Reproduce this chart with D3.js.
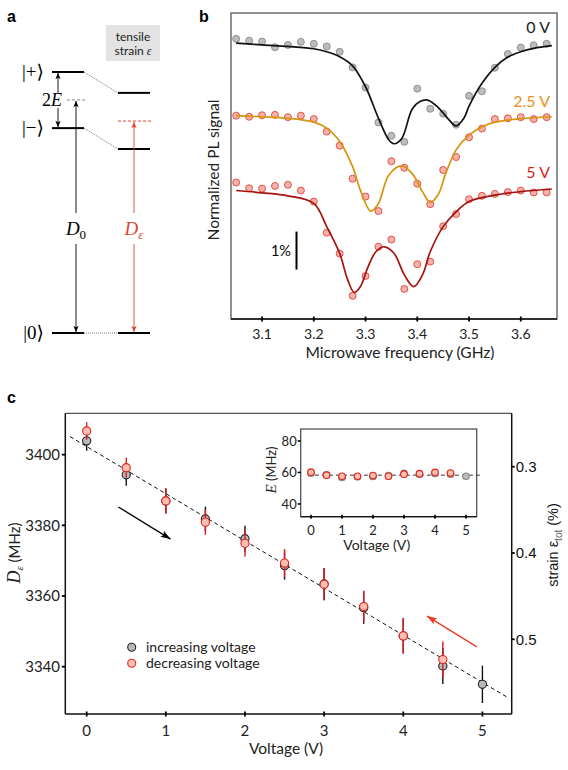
<!DOCTYPE html>
<html lang="en">
<head>
<meta charset="UTF-8">
<title>Strain tuning of the NV spin levels</title>
<script src="https://d3js.org/d3.v7.min.js"></script>
<style>
  body { margin: 0; background: #fff; }
  svg { display: block; }
</style>
</head>
<body>
<svg width="568" height="770"></svg>
<script>
// ---------- panel a: level scheme (schematic energies, arbitrary units) ----------
const levelLabels = ['|0\u27E9', '|\u2212\u27E9', '|+\u27E9'];
const levelsRelaxed = [0, 78.5, 100];
const levelsStrained = [0, 70.5, 92];
const midRelaxed = 89.3;
const midStrained = 81.2;

// ---------- panel b: ODMR spectra ----------
const freqs = [3.05, 3.075, 3.1, 3.125, 3.15, 3.175, 3.2, 3.225, 3.25, 3.275, 3.3, 3.325, 3.35,
               3.375, 3.4, 3.425, 3.45, 3.475, 3.5, 3.525, 3.55, 3.575, 3.6, 3.625, 3.65];
const pl0V  = [7.37, 7.32, 7.30, 7.15, 7.21, 7.29, 7.24, 7.17, 7.03, 6.62, 6.09, 5.17, 4.82,
               4.66, 6.06, 5.53, 5.40, 5.11, 5.87, 5.99, 6.61, 6.97, 7.14, 7.20, 7.24];
const pl25V = [5.35, 5.32, 5.36, 5.37, 5.31, 5.35, 5.26, 4.93, 4.56, 3.69, 3.22, 2.84, 4.15,
               3.98, 3.56, 3.02, 3.92, 4.26, 4.78, 5.01, 5.26, 5.28, 5.31, 5.26, 5.31];
const pl5V  = [3.59, 3.44, 3.43, 3.50, 3.53, 3.38, 3.09, 2.27, 1.72, 0.61, 1.13, 1.90, 2.09,
               0.79, 1.44, 1.51, 2.44, 2.76, 3.15, 3.24, 3.29, 3.34, 3.38, 3.33, 3.33];

const fitFreq0V = [3.05, 3.1, 3.15, 3.2, 3.225, 3.25, 3.275, 3.3, 3.325, 3.345, 3.355, 3.37, 3.39,
                   3.405, 3.42, 3.44, 3.46, 3.475, 3.49, 3.5, 3.525, 3.55, 3.575, 3.6, 3.625, 3.66];
const fit0V = [7.26, 7.21, 7.17, 7.11, 7.03, 6.90, 6.66, 6.11, 5.28, 4.71, 4.61, 4.75, 5.52,
               5.72, 5.76, 5.57, 5.26, 5.08, 5.28, 5.60, 6.20, 6.62, 6.89, 7.03, 7.12, 7.19];
const fitFreq25V = [3.05, 3.1, 3.15, 3.2, 3.225, 3.25, 3.275, 3.29, 3.31, 3.325, 3.345, 3.37,
                    3.39, 3.41, 3.425, 3.44, 3.455, 3.475, 3.5, 3.525, 3.55, 3.6, 3.66];
const fit25V = [5.35, 5.32, 5.28, 5.18, 5.02, 4.67, 4.01, 3.39, 2.84, 3.04, 3.79, 4.03,
                3.83, 3.35, 3.07, 3.26, 3.83, 4.45, 4.84, 5.06, 5.18, 5.27, 5.32];
const fitFreq5V = [3.05, 3.1, 3.15, 3.2, 3.225, 3.25, 3.265, 3.278, 3.29, 3.305, 3.32, 3.336,
                   3.355, 3.375, 3.393, 3.41, 3.425, 3.45, 3.475, 3.5, 3.55, 3.6, 3.66];
const fit5V = [3.38, 3.32, 3.24, 3.04, 2.43, 1.73, 1.05, 0.70, 0.85, 1.38, 1.77, 1.90,
               1.73, 1.16, 0.85, 1.16, 1.77, 2.43, 2.82, 3.09, 3.26, 3.35, 3.42];
const freqTicks = [3.1, 3.2, 3.3, 3.4, 3.5, 3.6];

// ---------- panel c: D_eps and E versus voltage ----------
const voltsUp = [0, 0.5, 1, 1.5, 2, 2.5, 3, 3.5, 4, 4.5, 5];
const dUp = [3403.9, 3394.3, 3386.9, 3381.8, 3376.2, 3368.6, 3363.4, 3356.7, 3348.7, 3340.2, 3335.0];
const dUpErr = [2.8, 3.1, 3.5, 3.5, 3.7, 4.0, 4.5, 4.6, 5.0, 5.1, 5.3];
const voltsDown = [0, 0.5, 1, 1.5, 2, 2.5, 3, 3.5, 4, 4.5];
const dDown = [3406.7, 3396.3, 3386.9, 3380.9, 3374.9, 3369.3, 3363.3, 3357.0, 3348.7, 3342.0];
const dDownErr = [2.5, 2.8, 3.6, 3.6, 3.8, 4.0, 4.6, 4.5, 5.0, 5.1];
const fitLineV = [-0.21, 5.31];
const fitLineD = [3405.1, 3331.4];
const eUp = [59.5, 58.5, 56.8, 57.2, 57.5, 58.0, 59.4, 58.8, 59.4, 58.9, 57.6];
const eUpErr = [1.8, 1.8, 1.8, 1.8, 1.8, 1.8, 1.8, 1.8, 1.8, 1.8, 1.8];
const eDown = [60.2, 58.3, 57.6, 57.6, 58.0, 57.6, 58.9, 59.2, 60.0, 59.6];
const eFitV = [-0.1, 5.5];
const eFit = [58.3, 58.3];
const voltTicks = [0, 1, 2, 3, 4, 5];
const dTicks = [3340, 3360, 3380, 3400];
const strainTicks = [0.3, 0.4, 0.5];
const eTicks = [40, 60, 80];

// ---------------------------------------------------------------
const svg = d3.select('svg');
const sans = 'Lato, "Open Sans", sans-serif';
const arial = '"Liberation Sans", Arial, sans-serif';
const serif = '"Liberation Serif", "DejaVu Serif", serif';
const redLine = '#d9472f';

const defs = svg.append('defs');
function marker(id, color, len, half) {
    defs.append('marker')
        .attr('id', id)
        .attr('viewBox', `0 ${-half} ${len} ${2 * half}`)
        .attr('refX', len).attr('refY', 0)
        .attr('markerUnits', 'userSpaceOnUse')
        .attr('markerWidth', len).attr('markerHeight', 2 * half)
        .attr('orient', 'auto')
        .append('path')
        .attr('d', `M0,${-half}L${len},0L0,${half}L${len * 0.2},0Z`)
        .attr('fill', color);
}
marker('headK', '#000', 6, 2.6);
marker('headR', redLine, 6, 2.6);
marker('bigK', '#000', 10, 3.5);
marker('bigR', '#ee3a22', 10, 3.5);

// panel letters
[['a', 7, 22], ['b', 199, 22], ['c', 7, 403]].forEach(([t, x, y]) =>
    svg.append('text').attr('x', x).attr('y', y).text(t)
        .attr('font-family', arial).attr('font-weight', 'bold').attr('font-size', 16));

// ================= panel a =================
const yA = d3.scaleLinear().domain([0, 100]).range([333, 72]);
const gA = svg.append('g');

gA.append('rect').attr('x', 106).attr('y', 25).attr('width', 54).attr('height', 36).attr('fill', '#e3e3e3');
gA.append('text').attr('x', 133).attr('y', 41).attr('text-anchor', 'middle')
    .attr('font-family', sans).attr('font-size', 12).attr('fill', '#222').text('tensile');
const st = gA.append('text').attr('x', 133).attr('y', 55).attr('text-anchor', 'middle')
    .attr('font-family', sans).attr('font-size', 12).attr('fill', '#222');
st.append('tspan').text('strain ');
st.append('tspan').attr('font-family', serif).attr('font-style', 'italic').text('\u03B5');

// levels
levelsRelaxed.forEach((e, i) => {
    gA.append('line').attr('x1', 52).attr('x2', 84).attr('y1', yA(e)).attr('y2', yA(e))
        .attr('stroke', '#000').attr('stroke-width', 2);
    gA.append('line').attr('x1', 118).attr('x2', 150)
        .attr('y1', yA(levelsStrained[i])).attr('y2', yA(levelsStrained[i]))
        .attr('stroke', '#000').attr('stroke-width', 2);
    gA.append('line').attr('x1', 84).attr('x2', 118)
        .attr('y1', yA(e)).attr('y2', yA(levelsStrained[i]))
        .attr('stroke', '#555').attr('stroke-width', 0.8).attr('stroke-dasharray', '1,1');
    gA.append('text').attr('x', 44).attr('y', yA(e)).attr('dy', '0.33em')
        .attr('text-anchor', 'end').attr('font-family', serif).attr('font-size', 19)
        .text(levelLabels[i]);
});
gA.append('line').attr('x1', 67).attr('x2', 86).attr('y1', yA(midRelaxed)).attr('y2', yA(midRelaxed))
    .attr('stroke', '#888').attr('stroke-width', 1).attr('stroke-dasharray', '3,2');
gA.append('line').attr('x1', 118).attr('x2', 151).attr('y1', yA(midStrained)).attr('y2', yA(midStrained))
    .attr('stroke', redLine).attr('stroke-width', 1).attr('stroke-dasharray', '3,2');

// 2E splitting arrows
gA.append('line').attr('x1', 58).attr('x2', 58)
    .attr('y1', yA(midRelaxed) - 7).attr('y2', yA(levelsRelaxed[2]) + 1)
    .attr('stroke', '#000').attr('stroke-width', 0.9).attr('marker-end', 'url(#headK)');
gA.append('line').attr('x1', 58).attr('x2', 58)
    .attr('y1', yA(midRelaxed) + 8).attr('y2', yA(levelsRelaxed[1]) - 1)
    .attr('stroke', '#000').attr('stroke-width', 0.9).attr('marker-end', 'url(#headK)');
const e2 = gA.append('text').attr('x', 62).attr('y', yA(midRelaxed)).attr('dy', '0.35em')
    .attr('text-anchor', 'end').attr('font-family', serif).attr('font-size', 18);
e2.append('tspan').text('2');
e2.append('tspan').attr('font-style', 'italic').text('E');

// D0 and D_eps arrows
function zfsArrow(x, top, color, head) {
    gA.append('line').attr('x1', x).attr('x2', x).attr('y1', 213).attr('y2', yA(top) + 1)
        .attr('stroke', color).attr('stroke-width', 0.9).attr('marker-end', `url(#${head})`);
    gA.append('line').attr('x1', x).attr('x2', x).attr('y1', 244).attr('y2', yA(0) - 1)
        .attr('stroke', color).attr('stroke-width', 0.9).attr('marker-end', `url(#${head})`);
}
zfsArrow(76, midRelaxed, '#000', 'headK');
zfsArrow(134, midStrained, redLine, 'headR');
function dLabel(x, sub, color) {
    const t = gA.append('text').attr('x', x).attr('y', 235).attr('text-anchor', 'middle')
        .attr('font-family', serif).attr('font-size', 19).attr('fill', color);
    t.append('tspan').attr('font-style', 'italic').text('D');
    t.append('tspan').attr('font-size', 13).attr('dy', 4)
        .attr('font-style', sub === '0' ? 'normal' : 'italic').text(sub);
}
dLabel(76, '0', '#000');
dLabel(134, '\u03B5', redLine);

// ================= panel b =================
const bL = 231, bR = 557, bT = 13, bB = 319;
const xB = d3.scaleLinear().domain([3.04, 3.67]).range([bL, bR]);
const yB = d3.scaleLinear().domain([0, 8.05]).range([bB, bT]);
const gB = svg.append('g');

gB.append('rect').attr('x', bL).attr('y', bT).attr('width', bR - bL).attr('height', bB - bT)
    .attr('fill', 'none').attr('stroke', '#555').attr('stroke-width', 1.3);
gB.append('line').attr('x1', bL).attr('x2', bR).attr('y1', bB).attr('y2', bB)
    .attr('stroke', '#111').attr('stroke-width', 1.5);
gB.selectAll('.tickB').data(freqTicks).join('line')
    .attr('x1', d => xB(d)).attr('x2', d => xB(d)).attr('y1', bB - 2.5).attr('y2', bB + 2.5)
    .attr('stroke', '#000').attr('stroke-width', 1.8);
gB.selectAll('.tlB').data(freqTicks).join('text')
    .attr('x', d => xB(d)).attr('y', bB + 19.5).attr('text-anchor', 'middle')
    .attr('font-family', sans).attr('font-size', 14).attr('fill', '#222')
    .text(d => d.toFixed(1));
gB.append('text').attr('x', 400).attr('y', 358).attr('text-anchor', 'middle')
    .attr('font-family', sans).attr('font-size', 15.5).attr('fill', '#222')
    .text('Microwave frequency (GHz)');
gB.append('text').attr('transform', `translate(219,170) rotate(-90)`)
    .attr('text-anchor', 'middle').attr('font-family', sans).attr('font-size', 15.5).attr('fill', '#222')
    .text('Normalized PL signal');

// 1% scale bar
gB.append('line').attr('x1', 296.5).attr('x2', 296.5).attr('y1', yB(1.3)).attr('y2', yB(2.3))
    .attr('stroke', '#000').attr('stroke-width', 2);
gB.append('text').attr('x', 291).attr('y', yB(1.8)).attr('dy', '0.35em').attr('text-anchor', 'end')
    .attr('font-family', sans).attr('font-size', 14.5).text('1%');

const spectra = [
    { label: '0 V', pts: pl0V, fitF: fitFreq0V, fit: fit0V, line: '#111', text: '#222', fill: '#bdbdbd', stroke: '#808080', ly: 33 },
    { label: '2.5 V', pts: pl25V, fitF: fitFreq25V, fit: fit25V, line: '#d8930f', text: '#e8921c', fill: '#f5b1aa', stroke: '#d9362c', ly: 107 },
    { label: '5 V', pts: pl5V, fitF: fitFreq5V, fit: fit5V, line: '#a5120f', text: '#d8281c', fill: '#f5b1aa', stroke: '#d9362c', ly: 178 }
];
const fitLineB = d3.line().x(d => xB(d[0])).y(d => yB(d[1])).curve(d3.curveCatmullRom.alpha(0.5));
spectra.forEach(s => {
    gB.append('g').selectAll('circle').data(freqs.map((f, i) => [f, s.pts[i]])).join('circle')
        .attr('cx', d => xB(d[0])).attr('cy', d => yB(d[1])).attr('r', 3.5)
        .attr('fill', s.fill).attr('stroke', s.stroke).attr('stroke-width', 0.8);
    gB.append('path').attr('d', fitLineB(s.fitF.map((f, i) => [f, s.fit[i]])))
        .attr('fill', 'none').attr('stroke', s.line).attr('stroke-width', 1.7);
    gB.append('text').attr('x', 550).attr('y', s.ly).attr('text-anchor', 'end')
        .attr('font-family', sans).attr('font-size', 16).attr('fill', s.text).text(s.label);
});

// ================= panel c =================
const cL = 65.3, cR = 511.7, cT = 413.3, cB = 714;
const xC = d3.scaleLinear().domain([-0.27, 5.37]).range([cL, cR]);
const yC = d3.scaleLinear().domain([3326.6, 3411.7]).range([cB, cT]);
const yS = d3.scaleLinear().domain([0.2381, 0.5866]).range([cT, cB]);
const gC = svg.append('g');

gC.append('line').attr('x1', cL).attr('x2', cR).attr('y1', cT).attr('y2', cT)
    .attr('stroke', '#555').attr('stroke-width', 1.3);
gC.append('line').attr('x1', cL).attr('x2', cL).attr('y1', cT).attr('y2', cB)
    .attr('stroke', '#111').attr('stroke-width', 1.5);
gC.append('line').attr('x1', cR).attr('x2', cR).attr('y1', cT).attr('y2', cB)
    .attr('stroke', '#111').attr('stroke-width', 1.5);
gC.append('line').attr('x1', cL).attr('x2', cR).attr('y1', cB).attr('y2', cB)
    .attr('stroke', '#111').attr('stroke-width', 1.5);

// x ticks
gC.selectAll('.vt').data(voltTicks).join('line')
    .attr('x1', d => xC(d)).attr('x2', d => xC(d)).attr('y1', cB - 2.5).attr('y2', cB + 2.5)
    .attr('stroke', '#000').attr('stroke-width', 1.8);
gC.selectAll('.vl').data(voltTicks).join('text')
    .attr('x', d => xC(d)).attr('y', 736).attr('text-anchor', 'middle')
    .attr('font-family', sans).attr('font-size', 15).attr('fill', '#222').text(d => d);
gC.append('text').attr('x', 286).attr('y', 754).attr('text-anchor', 'middle')
    .attr('font-family', sans).attr('font-size', 15.5).attr('fill', '#222').text('Voltage (V)');

// left y ticks
gC.selectAll('.dt').data(dTicks).join('line')
    .attr('x1', cL - 3.5).attr('x2', cL).attr('y1', d => yC(d)).attr('y2', d => yC(d))
    .attr('stroke', '#000').attr('stroke-width', 1.8);
gC.selectAll('.dl').data(dTicks).join('text')
    .attr('x', 60).attr('y', d => yC(d)).attr('dy', '0.36em').attr('text-anchor', 'end')
    .attr('font-family', sans).attr('font-size', 15).attr('fill', '#222').text(d => d);
const dlab = gC.append('text').attr('transform', `translate(20,553) rotate(-90)`)
    .attr('text-anchor', 'middle').attr('fill', '#222');
dlab.append('tspan').attr('font-family', serif).attr('font-style', 'italic').attr('font-size', 18).text('D');
dlab.append('tspan').attr('font-family', serif).attr('font-style', 'italic').attr('font-size', 11).attr('dy', 3).text('\u03B5');
dlab.append('tspan').attr('font-family', sans).attr('font-size', 15).attr('dy', -3).text(' (MHz)');

// right strain axis
gC.selectAll('.sk').data(strainTicks).join('line')
    .attr('x1', cR).attr('x2', cR + 3).attr('y1', d => yS(d)).attr('y2', d => yS(d))
    .attr('stroke', '#000').attr('stroke-width', 1.8);
gC.selectAll('.sl').data(strainTicks).join('text')
    .attr('x', cR + 4).attr('y', d => yS(d)).attr('dy', '0.36em')
    .attr('font-family', arial).attr('font-size', 15).attr('fill', '#111').text(d => d.toFixed(1));
const slab = gC.append('text').attr('transform', `translate(558,545) rotate(-90)`)
    .attr('text-anchor', 'middle').attr('font-family', arial).attr('font-size', 14.5).attr('fill', '#111');
slab.append('tspan').text('strain \u03B5');
slab.append('tspan').attr('font-size', 10).attr('dy', 4).attr('fill', '#666').text('tot');
slab.append('tspan').attr('dy', -4).text(' (%)');

// dashed linear fit
gC.append('line')
    .attr('x1', xC(fitLineV[0])).attr('y1', yC(fitLineD[0]))
    .attr('x2', xC(fitLineV[1])).attr('y2', yC(fitLineD[1]))
    .attr('stroke', '#111').attr('stroke-width', 1).attr('stroke-dasharray', '4,3');

function series(g, xs, ys, errs, x, y, barColor, fill, stroke, r, bw) {
    const data = xs.map((v, i) => ({ v, d: ys[i], e: errs ? errs[i] : 0 }));
    if (errs) {
        g.append('g').selectAll('line').data(data).join('line')
            .attr('x1', d => x(d.v)).attr('x2', d => x(d.v))
            .attr('y1', d => y(d.d - d.e)).attr('y2', d => y(d.d + d.e))
            .attr('stroke', barColor).attr('stroke-width', bw);
    }
    g.append('g').selectAll('circle').data(data).join('circle')
        .attr('cx', d => x(d.v)).attr('cy', d => y(d.d)).attr('r', r)
        .attr('fill', fill).attr('stroke', stroke).attr('stroke-width', 1.1);
}
series(gC, voltsUp, dUp, dUpErr, xC, yC, '#111', '#b9b9b9', '#222', 4.1, 1.4);
series(gC, voltsDown, dDown, dDownErr, xC, yC, '#d81e1e', '#fcbfb2', '#e2231c', 4.1, 1.4);

// direction arrows
gC.append('line').attr('x1', xC(0.40)).attr('y1', yC(3385.2)).attr('x2', xC(1.06)).attr('y2', yC(3376.1))
    .attr('stroke', '#000').attr('stroke-width', 1.3).attr('marker-end', 'url(#bigK)');
gC.append('line').attr('x1', xC(4.93)).attr('y1', yC(3345.6)).attr('x2', xC(4.30)).attr('y2', yC(3354.3))
    .attr('stroke', '#ee3a22').attr('stroke-width', 1.3).attr('marker-end', 'url(#bigR)');

// legend
const legend = [
    { label: 'increasing voltage', fill: '#b9b9b9', stroke: '#222' },
    { label: 'decreasing voltage', fill: '#fcbfb2', stroke: '#e2231c' }
];
legend.forEach((l, i) => {
    gC.append('circle').attr('cx', 131.7).attr('cy', 647.3 + i * 16).attr('r', 4)
        .attr('fill', l.fill).attr('stroke', l.stroke).attr('stroke-width', 1.1);
    gC.append('text').attr('x', 146).attr('y', 647.3 + i * 16).attr('dy', '0.35em')
        .attr('font-family', sans).attr('font-size', 14).attr('fill', '#222').text(l.label);
});

// ---------- inset: E versus voltage ----------
const iL = 300.7, iR = 476.7, iT = 429, iB = 516.7;
const xI = d3.scaleLinear().domain([-0.332, 5.345]).range([iL, iR]);
const yI = d3.scaleLinear().domain([31.9, 87.6]).range([iB, iT]);
const gI = svg.append('g');
gI.append('rect').attr('x', iL).attr('y', iT).attr('width', iR - iL).attr('height', iB - iT)
    .attr('fill', '#fff').attr('stroke', '#444').attr('stroke-width', 1.2);
gI.append('line').attr('x1', iL).attr('x2', iR).attr('y1', iB).attr('y2', iB)
    .attr('stroke', '#111').attr('stroke-width', 1.3);
gI.selectAll('.ix').data(voltTicks).join('line')
    .attr('x1', d => xI(d)).attr('x2', d => xI(d)).attr('y1', iB - 2).attr('y2', iB + 2)
    .attr('stroke', '#000').attr('stroke-width', 1.6);
gI.selectAll('.ixl').data(voltTicks).join('text')
    .attr('x', d => xI(d)).attr('y', 534.5).attr('text-anchor', 'middle')
    .attr('font-family', sans).attr('font-size', 13).attr('fill', '#222').text(d => d);
gI.append('text').attr('x', 376.7).attr('y', 550).attr('text-anchor', 'middle')
    .attr('font-family', sans).attr('font-size', 14).attr('fill', '#222').text('Voltage (V)');
gI.selectAll('.iy').data(eTicks).join('line')
    .attr('x1', iL - 3).attr('x2', iL).attr('y1', d => yI(d)).attr('y2', d => yI(d))
    .attr('stroke', '#000').attr('stroke-width', 1.6);
gI.selectAll('.iyl').data(eTicks).join('text')
    .attr('x', iL - 4).attr('y', d => yI(d)).attr('dy', '0.36em').attr('text-anchor', 'end')
    .attr('font-family', sans).attr('font-size', 13).attr('fill', '#222').text(d => d);
const elab = gI.append('text').attr('transform', `translate(276,470) rotate(-90)`)
    .attr('text-anchor', 'middle').attr('font-size', 13).attr('fill', '#222');
elab.append('tspan').attr('font-family', serif).attr('font-style', 'italic').attr('font-size', 15).text('E');
elab.append('tspan').attr('font-family', sans).text(' (MHz)');

gI.append('line').attr('x1', xI(eFitV[0])).attr('x2', xI(eFitV[1]))
    .attr('y1', yI(eFit[0])).attr('y2', yI(eFit[1]))
    .attr('stroke', '#333').attr('stroke-width', 1).attr('stroke-dasharray', '4,3');
series(gI, voltsUp, eUp, eUpErr, xI, yI, '#c8c8c8', '#b9b9b9', '#888', 3.3, 1.2);
series(gI, voltsDown, eDown, null, xI, yI, '#d81e1e', '#fcbfb2', '#e2231c', 3.3, 1.2);
</script>
</body>
</html>
